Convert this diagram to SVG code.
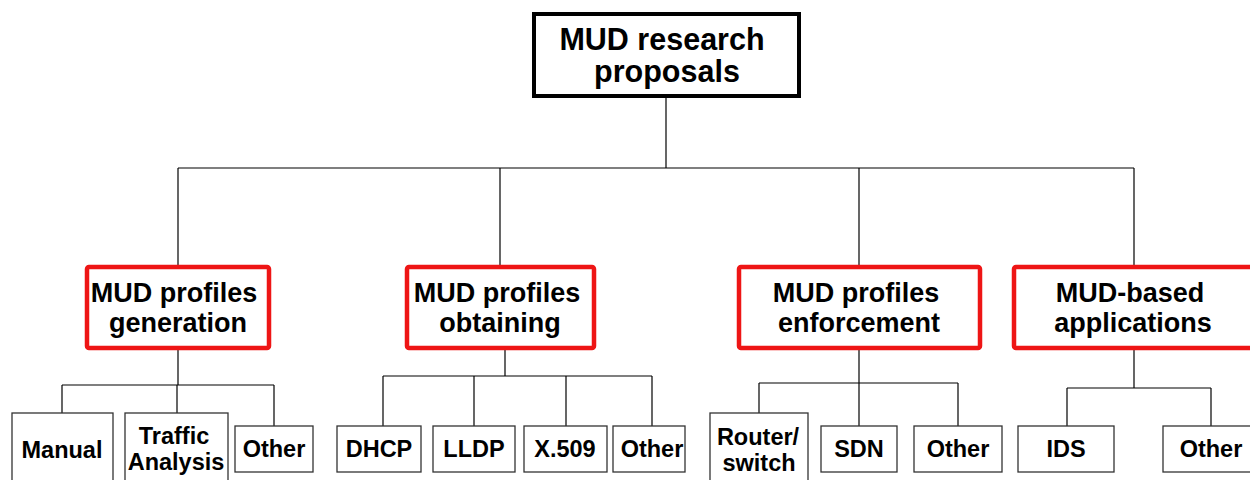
<svg xmlns="http://www.w3.org/2000/svg" width="1250" height="480" viewBox="0 0 1250 480">
<style>
text{font-family:"Liberation Sans",Arial,sans-serif;font-weight:bold;fill:#000;text-anchor:middle}
.root{fill:#fff;stroke:#000;stroke-width:4}
.cat{fill:#fff;stroke:#ee1515;stroke-width:4.5}
.leaf{fill:#fff;stroke:#333;stroke-width:1.3}
.t1{font-size:30.5px}
.t2{font-size:27px}
.t3{font-size:23.5px}
#connectors line{stroke:#000;stroke-width:1.2}
</style>
<rect width="1250" height="480" fill="#fff"/>
<g id="connectors">
<line x1="666" y1="98" x2="666" y2="168"/>
<line x1="178" y1="168" x2="1134" y2="168"/>
<line x1="178" y1="168" x2="178" y2="265"/>
<line x1="500" y1="168" x2="500" y2="265"/>
<line x1="859" y1="168" x2="859" y2="265"/>
<line x1="1134" y1="168" x2="1134" y2="265"/>
<line x1="178" y1="350" x2="178" y2="385"/>
<line x1="62" y1="385" x2="274" y2="385"/>
<line x1="62" y1="385" x2="62" y2="413"/>
<line x1="177" y1="385" x2="177" y2="413"/>
<line x1="274" y1="385" x2="274" y2="426"/>
<line x1="505" y1="350" x2="505" y2="376"/>
<line x1="383" y1="376" x2="652" y2="376"/>
<line x1="383" y1="376" x2="383" y2="426"/>
<line x1="474" y1="376" x2="474" y2="426"/>
<line x1="566" y1="376" x2="566" y2="426"/>
<line x1="652" y1="376" x2="652" y2="426"/>
<line x1="859" y1="350" x2="859" y2="426"/>
<line x1="759" y1="383" x2="958" y2="383"/>
<line x1="759" y1="383" x2="759" y2="413"/>
<line x1="958" y1="383" x2="958" y2="426"/>
<line x1="1134" y1="350" x2="1134" y2="388"/>
<line x1="1067" y1="388" x2="1211" y2="388"/>
<line x1="1067" y1="388" x2="1067" y2="426"/>
<line x1="1211" y1="388" x2="1211" y2="426"/>
</g>
<g id="root">
<rect class="root" x="534" y="14" width="265" height="82"/>
<text class="t1" x="662" y="50">MUD research</text>
<text class="t1" x="667" y="82">proposals</text>
</g>
<g id="generation">
<rect class="cat" x="87" y="267" width="182" height="81" rx="2"/>
<text class="t2" x="174" y="302">MUD profiles</text>
<text class="t2" x="178" y="332">generation</text>
</g>
<g id="obtaining">
<rect class="cat" x="407" y="267" width="187" height="81" rx="2"/>
<text class="t2" x="497" y="302">MUD profiles</text>
<text class="t2" x="500" y="332">obtaining</text>
</g>
<g id="enforcement">
<rect class="cat" x="739" y="267" width="241" height="81" rx="2"/>
<text class="t2" x="856" y="302">MUD profiles</text>
<text class="t2" x="859" y="332">enforcement</text>
</g>
<g id="applications">
<rect class="cat" x="1014" y="267" width="240" height="81" rx="2"/>
<text class="t2" x="1130" y="302">MUD-based</text>
<text class="t2" x="1133" y="332">applications</text>
</g>
<g id="manual">
<rect class="leaf" x="12" y="413" width="101" height="80"/>
<text class="t3" x="62" y="458">Manual</text>
</g>
<g id="traffic">
<rect class="leaf" x="125" y="413" width="103" height="80"/>
<text class="t3" x="174" y="444">Traffic</text>
<text class="t3" x="176" y="470">Analysis</text>
</g>
<g id="other1">
<rect class="leaf" x="235" y="426" width="78" height="46"/>
<text class="t3" x="274" y="457">Other</text>
</g>
<g id="dhcp">
<rect class="leaf" x="337" y="426" width="84" height="46"/>
<text class="t3" x="379" y="457">DHCP</text>
</g>
<g id="lldp">
<rect class="leaf" x="433" y="426" width="82" height="46"/>
<text class="t3" x="474" y="457">LLDP</text>
</g>
<g id="x509">
<rect class="leaf" x="524" y="426" width="83" height="46"/>
<text class="t3" x="565" y="457">X.509</text>
</g>
<g id="other2">
<rect class="leaf" x="613" y="426" width="72" height="46"/>
<text class="t3" x="652" y="457">Other</text>
</g>
<g id="router">
<rect class="leaf" x="710" y="413" width="98" height="80"/>
<text class="t3" x="758" y="445">Router/</text>
<text class="t3" x="759" y="471">switch</text>
</g>
<g id="sdn">
<rect class="leaf" x="821" y="426" width="76" height="46"/>
<text class="t3" x="859" y="457">SDN</text>
</g>
<g id="other3">
<rect class="leaf" x="914" y="426" width="88" height="46"/>
<text class="t3" x="958" y="457">Other</text>
</g>
<g id="ids">
<rect class="leaf" x="1018" y="426" width="96" height="46"/>
<text class="t3" x="1066" y="457">IDS</text>
</g>
<g id="other4">
<rect class="leaf" x="1163" y="426" width="96" height="46"/>
<text class="t3" x="1211" y="457">Other</text>
</g>
</svg>
